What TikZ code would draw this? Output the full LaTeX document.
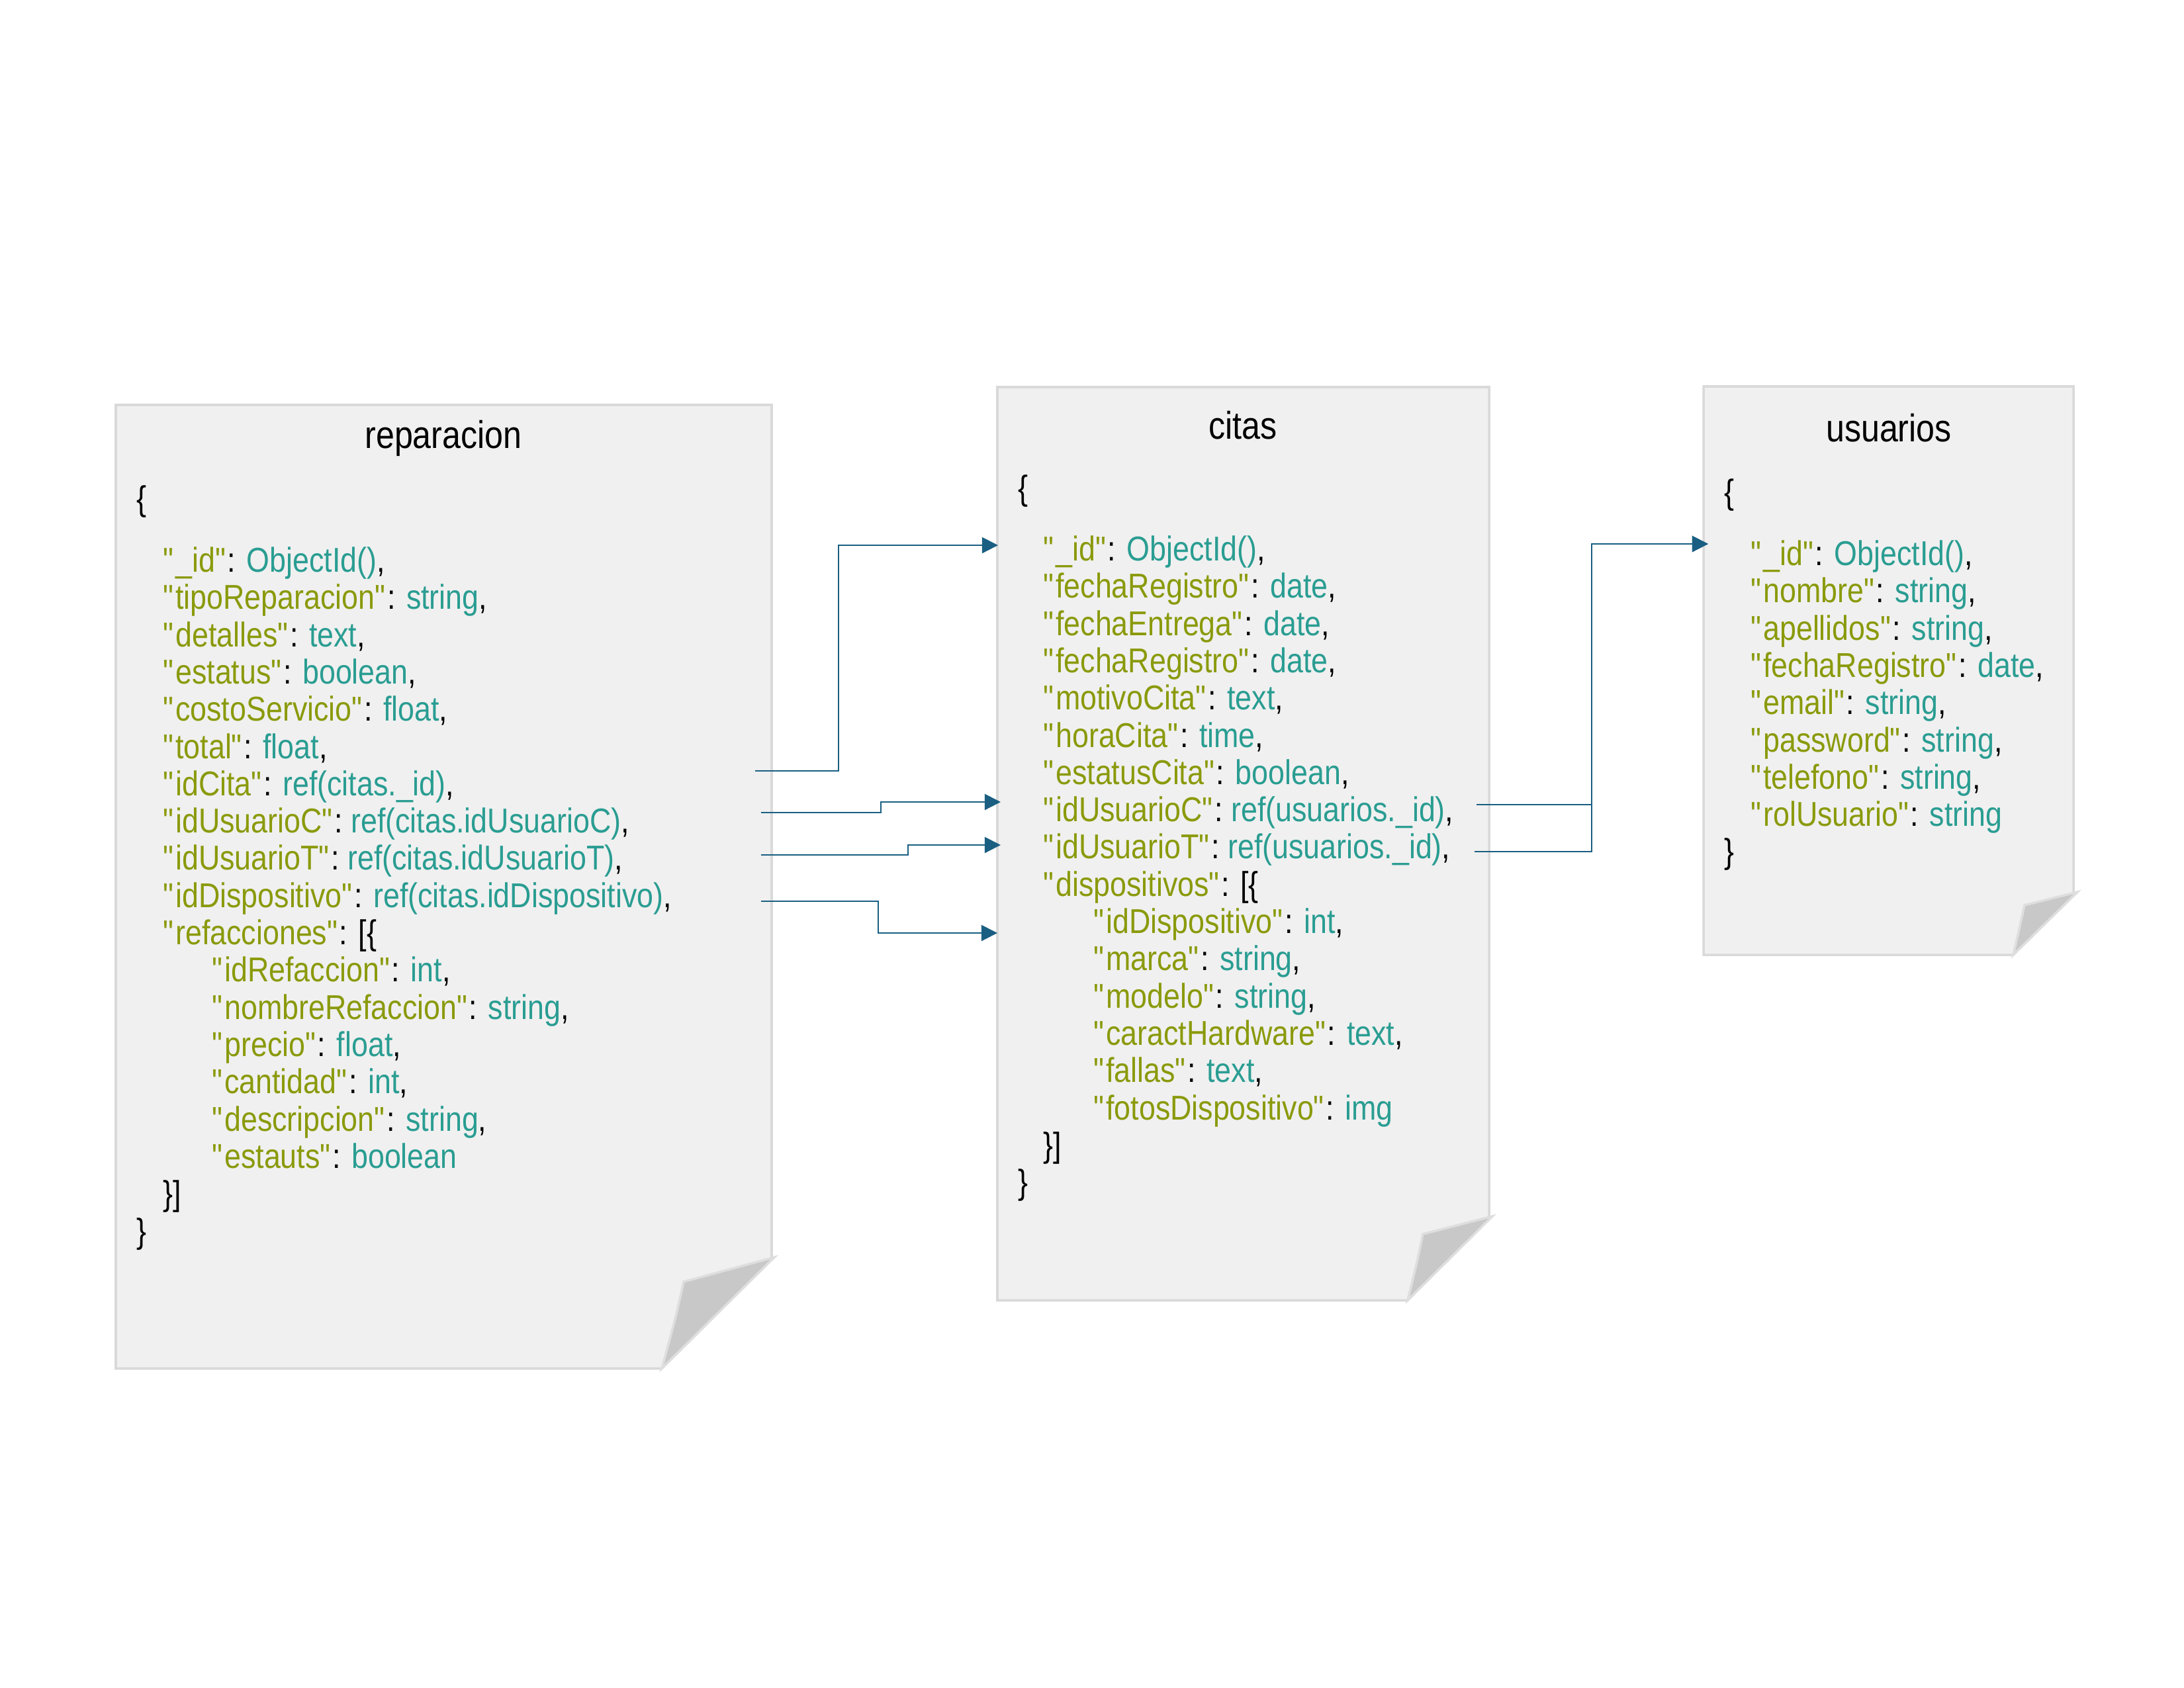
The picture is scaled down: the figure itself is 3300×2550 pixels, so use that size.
\documentclass[tikz,border=0pt]{standalone}
\usepackage{fontspec}
\setmainfont{Liberation Sans}[FakeStretch=0.86]
\usetikzlibrary{arrows.meta}
\definecolor{keyc}{HTML}{8A9A0B}
\definecolor{valc}{HTML}{2A9D92}
\definecolor{pagefill}{HTML}{F0F0F0}
\definecolor{pageedge}{HTML}{D9D9D9}
\definecolor{foldfill}{HTML}{C8C8C8}
\definecolor{foldedge}{HTML}{DEDEDE}
\definecolor{linkc}{HTML}{1A5F82}
\newcommand\kv[3]{\textcolor{keyc}{\textquotedbl#1\textquotedbl}: \textcolor{valc}{#2}#3}
\newcommand\ko[2]{\textcolor{keyc}{\textquotedbl#1\textquotedbl}#2}
\begin{document}
\begin{tikzpicture}[x=0.24pt,y=-0.24pt,
 txt/.style={anchor=base west, inner sep=0pt, font=\fontsize{12.5}{15}\selectfont},
 ttl/.style={anchor=base, inner sep=0pt, font=\fontsize{14}{17}\selectfont},
 page/.style={fill=pagefill, draw=pageedge, line width=0.85pt, line join=miter},
 fold/.style={fill=foldfill, draw=foldedge, line width=0.85pt, line join=miter},
 link/.style={draw=linkc, line width=0.5pt, -{Triangle[length=5.8pt,width=5.8pt]}}]
\useasboundingbox (0,0) rectangle (3300,2550);

% ---------- pages ----------
\draw[page] (175,612) -- (1166,612) -- (1166,1902) -- (1000,2068) -- (175,2068) -- cycle;
\draw[fold] (1170,1900) -- (1033,1937) .. controls (1020,1995) .. (1000,2068) -- cycle;

\draw[page] (1507,585) -- (2250,585) -- (2250,1841) -- (2127,1965) -- (1507,1965) -- cycle;
\draw[fold] (2255,1838) -- (2150,1865) .. controls (2141,1908) .. (2127,1965) -- cycle;

\draw[page] (2574,584) -- (3133,584) -- (3133,1351) -- (3042,1443) -- (2574,1443) -- cycle;
\draw[fold] (3139,1348) -- (3059,1368) .. controls (3052,1400) .. (3042,1443) -- cycle;

% ---------- reparacion ----------
\node[ttl] (rt) at (670,677) {reparacion};
\node[txt] (rb) at (206,771) {\{};
\node[txt] (r0) at (246,864) {\kv{\_id}{ObjectId()}{,}};
\node[txt] (r1) at (246,920) {\kv{tipoReparacion}{string}{,}};
\node[txt] (r2) at (246,977) {\kv{detalles}{text}{,}};
\node[txt] (r3) at (246,1033) {\kv{estatus}{boolean}{,}};
\node[txt] (r4) at (246,1089) {\kv{costoServicio}{float}{,}};
\node[txt] (r5) at (246,1146) {\kv{total}{float}{,}};
\node[txt] (r6) at (246,1202) {\kv{idCita}{ref(citas.\_id)}{,}};
\node[txt] (r7) at (246,1258) {\kv{idUsuarioC}{ref(citas.idUsuarioC)}{,}};
\node[txt] (r8) at (246,1314) {\kv{idUsuarioT}{ref(citas.idUsuarioT)}{,}};
\node[txt] (r9) at (246,1371) {\kv{idDispositivo}{ref(citas.idDispositivo)}{,}};
\node[txt] (r10) at (246,1427) {\ko{refacciones}{: [\{}};
\node[txt] (r11) at (320,1483) {\kv{idRefaccion}{int}{,}};
\node[txt] (r12) at (320,1540) {\kv{nombreRefaccion}{string}{,}};
\node[txt] (r13) at (320,1596) {\kv{precio}{float}{,}};
\node[txt] (r14) at (320,1652) {\kv{cantidad}{int}{,}};
\node[txt] (r15) at (320,1709) {\kv{descripcion}{string}{,}};
\node[txt] (r16) at (320,1765) {\kv{estauts}{boolean}{}};
\node[txt] (r17) at (246,1821) {\}]};
\node[txt] (r18) at (206,1878) {\}};

% ---------- citas ----------
\node[ttl] (ct) at (1878,663) {citas};
\node[txt] (cb) at (1538,755) {\{};
\node[txt] (c0) at (1576,847) {\kv{\_id}{ObjectId()}{,}};
\node[txt] (c1) at (1576,903) {\kv{fechaRegistro}{date}{,}};
\node[txt] (c2) at (1576,960) {\kv{fechaEntrega}{date}{,}};
\node[txt] (c3) at (1576,1016) {\kv{fechaRegistro}{date}{,}};
\node[txt] (c4) at (1576,1072) {\kv{motivoCita}{text}{,}};
\node[txt] (c5) at (1576,1129) {\kv{horaCita}{time}{,}};
\node[txt] (c6) at (1576,1185) {\kv{estatusCita}{boolean}{,}};
\node[txt] (c7) at (1576,1241) {\kv{idUsuarioC}{ref(usuarios.\_id)}{,}};
\node[txt] (c8) at (1576,1297) {\kv{idUsuarioT}{ref(usuarios.\_id)}{,}};
\node[txt] (c9) at (1576,1354) {\ko{dispositivos}{: [\{}};
\node[txt] (c10) at (1652,1410) {\kv{idDispositivo}{int}{,}};
\node[txt] (c11) at (1652,1466) {\kv{marca}{string}{,}};
\node[txt] (c12) at (1652,1523) {\kv{modelo}{string}{,}};
\node[txt] (c13) at (1652,1579) {\kv{caractHardware}{text}{,}};
\node[txt] (c14) at (1652,1635) {\kv{fallas}{text}{,}};
\node[txt] (c15) at (1652,1692) {\kv{fotosDispositivo}{img}{}};
\node[txt] (c16) at (1576,1748) {\}]};
\node[txt] (c17) at (1538,1804) {\}};

% ---------- usuarios ----------
\node[ttl] (ut) at (2854,667) {usuarios};
\node[txt] (ub) at (2605,761) {\{};
\node[txt] (u0) at (2645,854) {\kv{\_id}{ObjectId()}{,}};
\node[txt] (u1) at (2645,910) {\kv{nombre}{string}{,}};
\node[txt] (u2) at (2645,967) {\kv{apellidos}{string}{,}};
\node[txt] (u3) at (2645,1023) {\kv{fechaRegistro}{date}{,}};
\node[txt] (u4) at (2645,1079) {\kv{email}{string}{,}};
\node[txt] (u5) at (2645,1136) {\kv{password}{string}{,}};
\node[txt] (u6) at (2645,1192) {\kv{telefono}{string}{,}};
\node[txt] (u7) at (2645,1248) {\kv{rolUsuario}{string}{}};
\node[txt] (u8) at (2605,1304) {\}};

% ---------- connectors ----------
\coordinate (a1s) at (1141,1165); \coordinate (a1e) at (1508,824);
\coordinate (a2s) at (1150,1228); \coordinate (a2e) at (1512,1212);
\coordinate (a3s) at (1150,1292); \coordinate (a3e) at (1512,1277);
\coordinate (a4s) at (1150,1362); \coordinate (a4e) at (1507,1410);
\coordinate (a5s) at (2231,1216); \coordinate (a6s) at (2228,1287);
\coordinate (a5e) at (2581,822);

\draw[link] (a1s) -- ++(126,0) |- (a1e);
\draw[link] (a2s) -- ++(181,0) |- (a2e);
\draw[link] (a3s) -- ++(222,0) |- (a3e);
\draw[link] (a4s) -- ++(177,0) |- (a4e);
\draw[link] (a6s) -- ++(177,0) |- (a5e);
\draw[link] (a5s) -- ++(174,0) |- (a5e);
\end{tikzpicture}
\end{document}
